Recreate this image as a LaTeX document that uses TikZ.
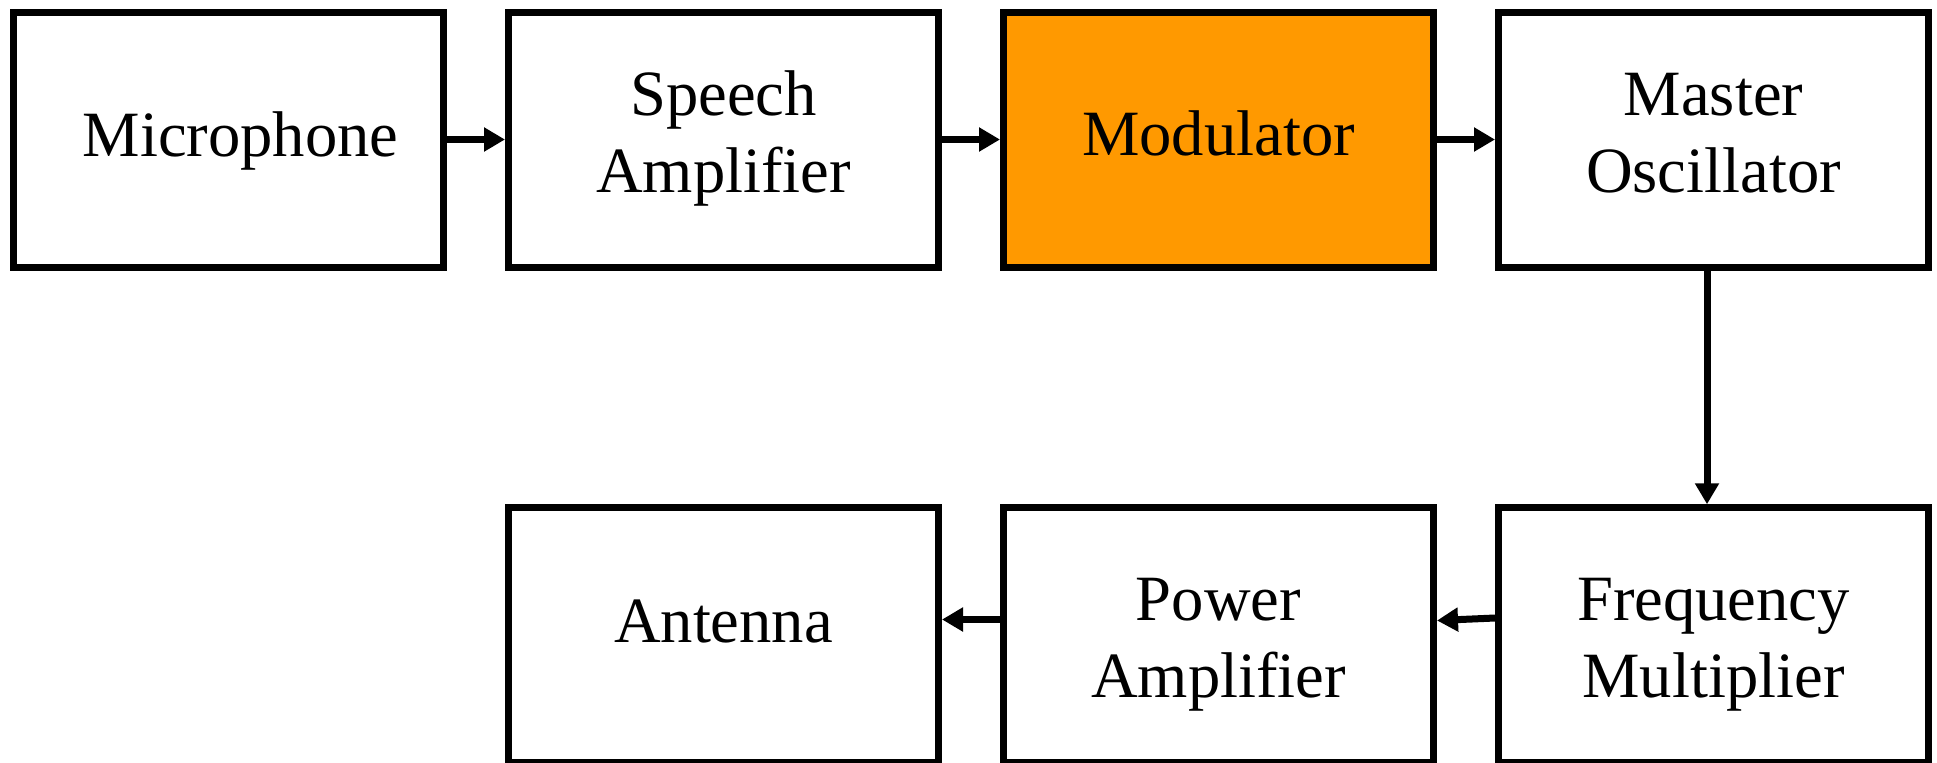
\documentclass[tikz,border=0pt]{standalone}
\usepackage{fontspec}
\setmainfont{Liberation Serif}
\usetikzlibrary{arrows.meta}
\definecolor{modorange}{RGB}{255,153,0}
\newcommand\twolines[2]{\begin{tabular}[t]{@{}c@{}}#1\\#2\end{tabular}}
\begin{document}
\begin{tikzpicture}[x=0.5pt,y=-0.5pt,
  blockbox/.style={draw=black, line width=3.5pt, minimum width=215pt, minimum height=127.5pt, inner sep=0pt},
  lbl/.style={inner sep=0pt, anchor=base, font=\fontsize{32.3pt}{38.5pt}\selectfont},
  arr/.style={line width=3.5pt, -{Triangle[length=10.5pt,width=11.5pt]}}]
\useasboundingbox (0,0) rectangle (1937,762);
% top row
\node[blockbox] (mic) at (228.5,139.5) {};
\node[blockbox] (sa)  at (723.5,139.5) {};
\node[blockbox, fill=modorange] (mod) at (1218.5,139.5) {};
\node[blockbox] (mo)  at (1713.5,139.5) {};
% bottom row
\node[blockbox] (ant) at (723.5,635.25) {};
\node[blockbox] (pa)  at (1218.5,635.25) {};
\node[blockbox] (fm)  at (1713.5,635.25) {};
% labels
\node[lbl] (micl) at (240.5,156) {Microphone};
\node[lbl] (sal)  at (723.5,115) {\twolines{Speech}{Amplifier}};
\node[lbl] (modl) at (1218.5,155) {Modulator};
\node[lbl] (mol)  at (1713.5,115) {\twolines{Master}{Oscillator}};
\node[lbl] (antl) at (723.5,642) {Antenna};
\node[lbl] (pal)  at (1218.5,620) {\twolines{Power}{Amplifier}};
\node[lbl] (fml)  at (1713.5,620) {\twolines{Frequency}{Multiplier}};
% helper coordinates
\coordinate (vx) at (1707,0);
\coordinate (yfm) at (0,618);
\coordinate (ypa) at (0,620.5);
\coordinate (yant) at (0,619.5);
% connectors
\draw[arr] (mic.east) -- (sa.west);
\draw[arr] (sa.east) -- (mod.west);
\draw[arr] (mod.east) -- (mo.west);
\draw[arr] (mo.south -| vx) -- (fm.north -| vx);
\draw[arr] (fm.west |- yfm) -- (pa.east |- ypa);
\draw[arr] (pa.west |- yant) -- (ant.east |- yant);
\end{tikzpicture}
\end{document}
